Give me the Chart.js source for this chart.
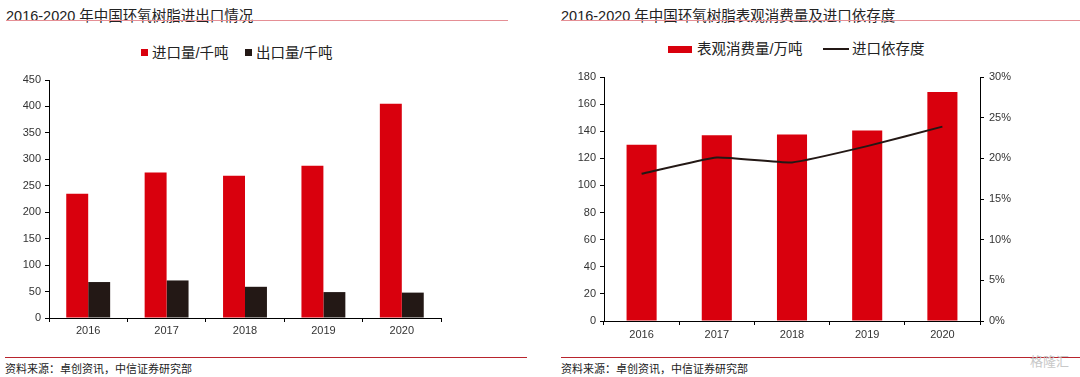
<!DOCTYPE html>
<html>
<head>
<meta charset="utf-8">
<script src="https://cdn.jsdelivr.net/npm/chart.js@4"></script>
<style>
  html, body { margin: 0; padding: 0; background: #fff; }
  body { width: 1080px; height: 377px; position: relative; overflow: hidden;
    font-family: "Liberation Sans", "Noto Sans CJK SC", sans-serif; color: #222; }
  .title { position: absolute; top: 4px; font-size: 14.5px; white-space: nowrap; }
  .tline { position: absolute; top: 20px; height: 1px; background: #e58f95; }
  .fline { position: absolute; top: 357px; height: 1px; background: #b8242d; }
  .foot { position: absolute; top: 360px; font-size: 11px; color: #222; white-space: nowrap; }
  .leg { position: absolute; font-size: 14.5px; white-space: nowrap; line-height: 16px; }
  .sw { position: absolute; }
  canvas { position: absolute; }
</style>
</head>
<body>
<div class="title" style="left:6px">2016-2020 年中国环氧树脂进出口情况</div>
<div class="tline" style="left:6px;width:502px"></div>
<div class="title" style="left:561px">2016-2020 年中国环氧树脂表观消费量及进口依存度</div>
<div class="tline" style="left:561px;width:519px"></div>

<div class="sw" style="left:141px;top:49px;width:7px;height:7px;background:#d9000d"></div>
<div class="leg" style="left:152px;top:45px">进口量/千吨</div>
<div class="sw" style="left:245px;top:49px;width:7px;height:7px;background:#231815"></div>
<div class="leg" style="left:256px;top:45px">出口量/千吨</div>

<div class="sw" style="left:668px;top:46px;width:24px;height:7px;background:#d9000d"></div>
<div class="leg" style="left:697px;top:41px">表观消费量/万吨</div>
<div class="sw" style="left:823px;top:48px;width:26px;height:2px;background:#231815"></div>
<div class="leg" style="left:852px;top:41px">进口依存度</div>

<canvas id="left" width="520" height="280" style="left:0;top:60px"></canvas>
<canvas id="right" width="540" height="280" style="left:540px;top:60px"></canvas>

<div class="fline" style="left:5px;width:522px"></div>
<div class="foot" style="left:5px">资料来源：卓创资讯，中信证券研究部</div>
<div class="fline" style="left:561px;width:519px"></div>
<div class="foot" style="left:561px">资料来源：卓创资讯，中信证券研究部</div>
<div style="position:absolute;left:1030px;top:351px;font-size:13px;color:#c8c8c8">格隆汇</div>

<script>
  const years = ["2016", "2017", "2018", "2019", "2020"];
  const importQty = [235, 275, 269, 288, 405];
  const exportQty = [68, 71, 59, 49, 48];
  const consumption = [130, 137, 137.5, 140.5, 169];
  const importDependence = [18.1, 20.1, 19.5, 21.5, 23.9];

  const red = "#d9000d",
    dark = "#231815";
  const tickFont = { family: "Liberation Sans, Noto Sans CJK SC, sans-serif", size: 11 };

  function axisGrid() {
    return { display: true, drawOnChartArea: false, drawTicks: true, tickLength: 4, color: "#000" };
  }

  new Chart(document.getElementById("left"), {
    type: "bar",
    data: {
      labels: years,
      datasets: [
        { label: "进口量/千吨", data: importQty, backgroundColor: red },
        { label: "出口量/千吨", data: exportQty, backgroundColor: dark },
      ],
    },
    options: {
      responsive: false,
      animation: false,
      devicePixelRatio: 1,
      layout: { padding: { top: 20, right: 79, bottom: 0, left: 0 } },
      datasets: { bar: { categoryPercentage: 0.56, barPercentage: 1.0 } },
      plugins: { legend: { display: false }, tooltip: { enabled: false } },
      scales: {
        x: {
          grid: axisGrid(),
          border: { display: true, color: "#000" },
          ticks: { color: "#333", font: tickFont, padding: 2 },
          afterFit: (s) => { s.height = 22; },
        },
        y: {
          min: 0,
          max: 450,
          grid: axisGrid(),
          border: { display: true, color: "#000" },
          ticks: { stepSize: 50, color: "#333", font: tickFont, padding: 4 },
          afterFit: (s) => { s.width = 49; },
        },
      },
    },
  });

  new Chart(document.getElementById("right"), {
    type: "bar",
    data: {
      labels: years,
      datasets: [
        {
          type: "line",
          label: "进口依存度",
          data: importDependence,
          yAxisID: "y1",
          borderColor: dark,
          borderWidth: 2,
          pointRadius: 0,
          tension: 0.12,
          fill: false,
        },
        {
          label: "表观消费量/万吨",
          data: consumption,
          yAxisID: "y",
          backgroundColor: red,
          categoryPercentage: 0.4,
          barPercentage: 1.0,
        },
      ],
    },
    options: {
      responsive: false,
      animation: false,
      devicePixelRatio: 1,
      layout: { padding: { top: 17, right: 0, bottom: 0, left: 0 } },
      plugins: { legend: { display: false }, tooltip: { enabled: false } },
      scales: {
        x: {
          grid: axisGrid(),
          border: { display: true, color: "#000" },
          ticks: { color: "#333", font: tickFont, padding: 3 },
          afterFit: (s) => { s.height = 19; },
        },
        y: {
          position: "left",
          min: 0,
          max: 180,
          grid: axisGrid(),
          border: { display: true, color: "#000" },
          ticks: { stepSize: 20, color: "#333", font: tickFont, padding: 4 },
          afterFit: (s) => { s.width = 64; },
        },
        y1: {
          position: "right",
          min: 0,
          max: 30,
          grid: axisGrid(),
          border: { display: true, color: "#000" },
          ticks: { stepSize: 5, color: "#333", font: tickFont, padding: 5, callback: (v) => v + "%" },
          afterFit: (s) => { s.width = 100; },
        },
      },
    },
  });
</script>
</body>
</html>
